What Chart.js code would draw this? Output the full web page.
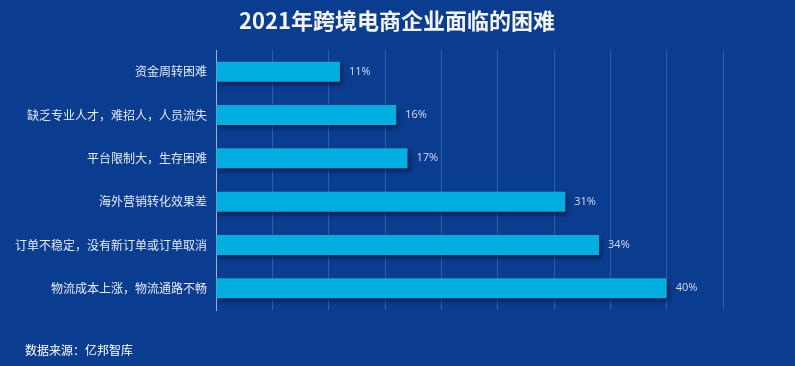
<!DOCTYPE html>
<html>
<head>
<meta charset="utf-8">
<script src="https://cdn.jsdelivr.net/npm/chart.js@4.4.0/dist/chart.umd.min.js"></script>
<style>
  html, body { margin: 0; padding: 0; background: #0A3D8F; }
  #wrap { width: 795px; height: 366px; position: relative; }
</style>
</head>
<body>
<div id="wrap"><canvas id="c" width="795" height="366"></canvas></div>
<script>
const categories = [
  "资金周转困难",
  "缺乏专业人才，难招人，人员流失",
  "平台限制大，生存困难",
  "海外营销转化效果差",
  "订单不稳定，没有新订单或订单取消",
  "物流成本上涨，物流通路不畅"
];
const values = [11, 16, 17, 31, 34, 40];
const valueLabels = ["11%", "16%", "17%", "31%", "34%", "40%"];
const titleText = "2021年跨境电商企业面临的困难";
const sourceText = "数据来源：亿邦智库";

const CJK = '"Noto Sans CJK SC", "Noto Sans", sans-serif';

const bgPlugin = {
  id: 'bg',
  beforeDraw(chart) {
    const ctx = chart.ctx;
    ctx.save();
    ctx.fillStyle = '#0A3D8F';
    ctx.fillRect(0, 0, chart.width, chart.height);
    ctx.restore();
  },
  afterDraw(chart) {
    const ctx = chart.ctx;
    ctx.save();
    ctx.fillStyle = '#F4F4F4';
    ctx.font = 'bold 22px ' + CJK;
    ctx.textAlign = 'center';
    ctx.textBaseline = 'middle';
    ctx.fillText(titleText, 397, 21);
    ctx.fillStyle = '#FFFFFF';
    ctx.font = '12px ' + CJK;
    ctx.textAlign = 'left';
    ctx.fillText(sourceText, 25, 350);
    ctx.restore();
  }
};

const shadowPlugin = {
  id: 'barShadow',
  beforeDatasetDraw(chart) {
    const ctx = chart.ctx;
    ctx.save();
    ctx.shadowColor = 'rgba(0, 10, 40, 0.6)';
    ctx.shadowBlur = 4;
    ctx.shadowOffsetX = 2;
    ctx.shadowOffsetY = 3;
  },
  afterDatasetDraw(chart) {
    chart.ctx.restore();
  }
};

const labelPlugin = {
  id: 'valueLabels',
  afterDatasetsDraw(chart) {
    const ctx = chart.ctx;
    const meta = chart.getDatasetMeta(0);
    ctx.save();
    ctx.fillStyle = '#D6DEEC';
    ctx.font = '11px "Open Sans", "DejaVu Sans", sans-serif';
    ctx.textAlign = 'left';
    ctx.textBaseline = 'middle';
    meta.data.forEach((bar, i) => {
      ctx.fillText(valueLabels[i], bar.x + 9, bar.y);
    });
    ctx.restore();
  }
};

new Chart(document.getElementById('c'), {
  type: 'bar',
  data: {
    labels: categories,
    datasets: [{
      data: values,
      backgroundColor: '#00AEE0',
      borderWidth: 0,
      barPercentage: 0.46,
      categoryPercentage: 1
    }]
  },
  options: {
    indexAxis: 'y',
    responsive: false,
    animation: false,
    layout: { padding: { top: 50, bottom: 56, left: 0, right: 72 } },
    plugins: {
      legend: { display: false },
      title: { display: false },
      tooltip: { enabled: false }
    },
    scales: {
      x: {
        min: 0,
        max: 45,
        ticks: { display: false, stepSize: 5 },
        grid: { color: 'rgba(120, 160, 220, 0.35)', lineWidth: 1, drawTicks: false },
        border: { display: false },
        afterFit(scale) { scale.height = 0; }
      },
      y: {
        ticks: {
          color: '#E6EBF4',
          font: { family: CJK, size: 12 },
          padding: 9
        },
        grid: { display: false, drawTicks: false },
        border: { display: true, color: '#9DB0D2', width: 1 },
        afterFit(scale) { scale.width = 216; }
      }
    }
  },
  plugins: [bgPlugin, shadowPlugin, labelPlugin]
});
</script>
</body>
</html>
